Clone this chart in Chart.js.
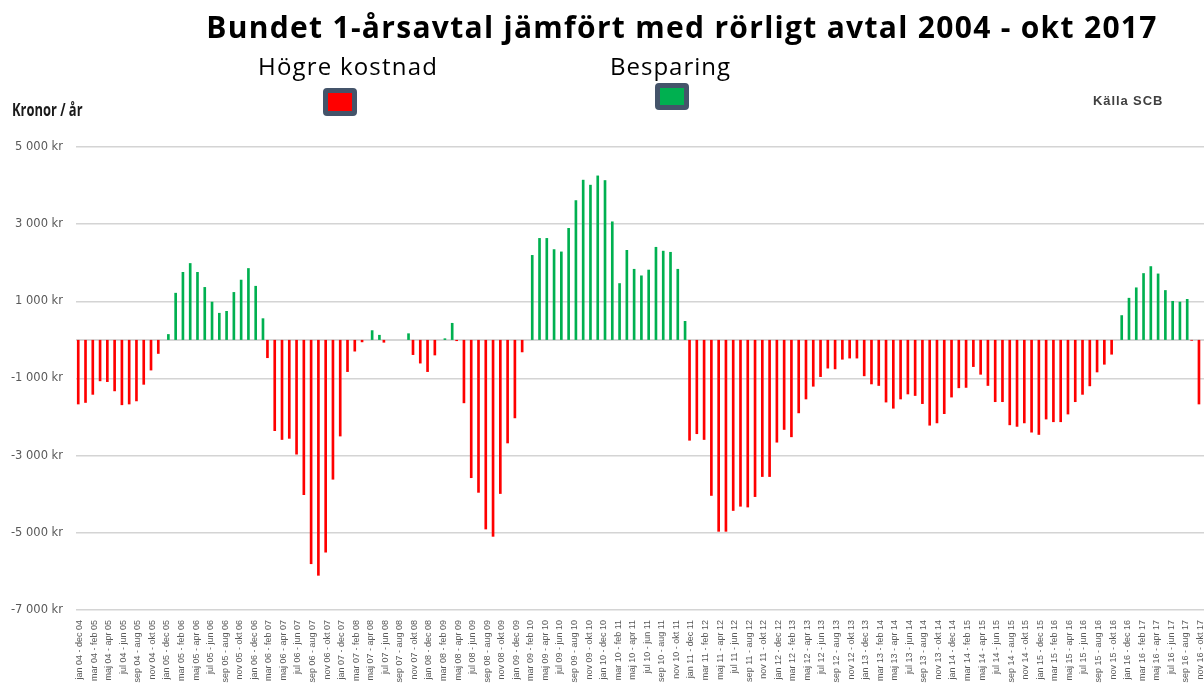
<!DOCTYPE html>
<html>
<head>
<meta charset="utf-8">
<script src="https://cdn.jsdelivr.net/npm/chart.js@4"></script>
<style>
  body { margin: 0; background: #fff; }
  #wrap { position: relative; width: 1204px; height: 689px; overflow: hidden; }
  #wrap canvas { position: absolute; left: 0; top: 0; }
  .txt { position: absolute; white-space: nowrap; }
  #title { left: 160px; width: 1044px; top: 6px; text-align: center; font: bold 30px "Open Sans", sans-serif; letter-spacing: 1.3px; color: #000; }
  #hogre { left: 258px; top: 49px; font: 24px "Open Sans", sans-serif; letter-spacing: 1.2px; color: #000; }
  #besp { left: 610px; top: 49px; font: 24px "Open Sans", sans-serif; letter-spacing: 1px; color: #000; }
  #unit { left: 12px; top: 98px; font: bold 17px "Open Sans", sans-serif; color: #1a1a1a; transform: scaleX(0.76); transform-origin: left top; }
  #source { left: 1093px; top: 93px; font: bold 13px "Liberation Sans", sans-serif; letter-spacing: 0.9px; color: #404040; }
  .box { position: absolute; box-sizing: border-box; border: 5px solid #44546a; border-radius: 4px; }
</style>
</head>
<body>
<div id="wrap">
  <canvas id="chart" width="1204" height="689"></canvas>
  <div class="txt" id="title">Bundet 1-årsavtal jämfört med rörligt avtal 2004 - okt 2017</div>
  <div class="txt" id="hogre">Högre kostnad</div>
  <div class="txt" id="besp">Besparing</div>
  <div class="box" style="left:323px; top:88px; width:34px; height:28px; background:#ff0000;"></div>
  <div class="box" style="left:655px; top:83px; width:34px; height:27px; background:#00b050;"></div>
  <div class="txt" id="unit">Kronor / år</div>
  <div class="txt" id="source">Källa SCB</div>
</div>
<script>
(function() {
    "use strict"

    // Swedish month names and the first year of the series (2004)
    var months = ['jan','feb','mar','apr','maj','jun','jul','aug','sep','okt','nov','dec'];
    var firstYear = 4;
    var periodCount = 155; // jan 04 - dec 04 ... nov 16 - okt 17

    // Difference in kronor per year, one value per rolling 12-month period
    var values = [
        -1670, -1630, -1420, -1070, -1090, -1330, -1690, -1670, -1590, -1160, -790, -360,
        150, 1220, 1760, 1990, 1760, 1370, 990, 700, 750, 1240, 1560, 1860,
        1400, 560, -470, -2360, -2590, -2560, -2970, -4020, -5810, -6110, -5510, -3620,
        -2500, -830, -300, -60, 250, 130, -70, 0, 0, 170, -390, -610,
        -830, -400, 40, 440, -30, -1640, -3580, -3960, -4910, -5100, -3990, -2680,
        -2030, -320, 2200, 2640, 2640, 2350, 2290, 2900, 3620, 4150, 4020, 4260,
        4140, 3070, 1470, 2330, 1840, 1670, 1820, 2410, 2310, 2280, 1840, 490,
        -2610, -2440, -2590, -4040, -4970, -4970, -4430, -4320, -4340, -4070, -3550, -3550,
        -2660, -2330, -2520, -1900, -1540, -1210, -960, -740, -760, -510, -480, -480,
        -940, -1150, -1190, -1620, -1780, -1540, -1410, -1450, -1660, -2220, -2160, -1920,
        -1490, -1250, -1240, -700, -900, -1190, -1610, -1610, -2210, -2250, -2160, -2400,
        -2460, -2060, -2130, -2130, -1930, -1610, -1420, -1200, -840, -640, -380, 640,
        1090, 1360, 1730, 1910, 1720, 1290, 1010, 990, 1060, -20, -1670
    ];

    var yTicks = [-7000, -5000, -3000, -1000, 1000, 3000, 5000];

    var labels = [];
    for (var i = 0; i < periodCount; i++) {
        var sm = i % 12, sy = firstYear + Math.floor(i / 12);
        var em = (i + 11) % 12, ey = firstYear + Math.floor((i + 11) / 12);
        var pad = function(n) { return (n < 10 ? '0' : '') + n; };
        labels.push(months[sm] + ' ' + pad(sy) + ' - ' + months[em] + ' ' + pad(ey));
    }

    var higher = values.map(function(v) { return v < 0 ? v : null; });
    var saving = values.map(function(v) { return v > 0 ? v : null; });

    var zeroLine = {
        id: 'zeroLine',
        beforeDatasetsDraw: function(chart) {
            var c = chart.ctx, a = chart.chartArea, y = chart.scales.y.getPixelForValue(0);
            c.save();
            c.strokeStyle = '#c8c8c8';
            c.lineWidth = 1.5;
            c.beginPath();
            c.moveTo(a.left, y);
            c.lineTo(a.right, y);
            c.stroke();
            c.restore();
        }
    };

    var ctx = document.getElementById('chart').getContext('2d');
    new Chart(ctx, {
        type: 'bar',
        data: {
            labels: labels,
            datasets: [{
                label: 'Högre kostnad',
                data: higher,
                backgroundColor: '#ff0000',
                categoryPercentage: 0.77,
                barPercentage: 0.95
            }, {
                label: 'Besparing',
                data: saving,
                backgroundColor: '#00b050',
                categoryPercentage: 0.77,
                barPercentage: 0.95
            }]
        },
        options: {
            responsive: false,
            animation: false,
            layout: { autoPadding: false, padding: { top: 147, left: 0, right: 0, bottom: 0 } },
            plugins: { legend: { display: false }, tooltip: { enabled: false } },
            scales: {
                x: {
                    grid: { display: false },
                    border: { display: false },
                    afterFit: function(scale) {
                        scale.height = 79;
                        scale.paddingLeft = 0;
                        scale.paddingRight = 0;
                    },
                    ticks: {
                        autoSkip: false,
                        minRotation: 90,
                        maxRotation: 90,
                        padding: 2,
                        color: '#595959',
                        font: { family: 'Liberation Sans', size: 9 },
                        callback: function(val, idx) { return idx % 2 === 0 ? labels[idx] : ''; }
                    }
                },
                y: {
                    min: -7000,
                    max: 5000,
                    afterFit: function(scale) {
                        scale.width = 76;
                        scale.paddingTop = 0;
                        scale.paddingBottom = 0;
                    },
                    afterBuildTicks: function(scale) {
                        scale.ticks = yTicks.map(function(v) { return { value: v }; });
                    },
                    grid: { color: '#d4d4d4', lineWidth: 1.5, drawTicks: false },
                    border: { display: false },
                    ticks: {
                        padding: 13,
                        color: '#595959',
                        font: { family: 'DejaVu Sans', size: 11.5 },
                        callback: function(v) {
                            var s = Math.abs(v).toString().replace(/\B(?=(\d{3})+(?!\d))/g, ' ');
                            return (v < 0 ? '-' : '') + s + ' kr';
                        }
                    }
                }
            }
        },
        plugins: [zeroLine]
    });
})();
</script>
</body>
</html>
